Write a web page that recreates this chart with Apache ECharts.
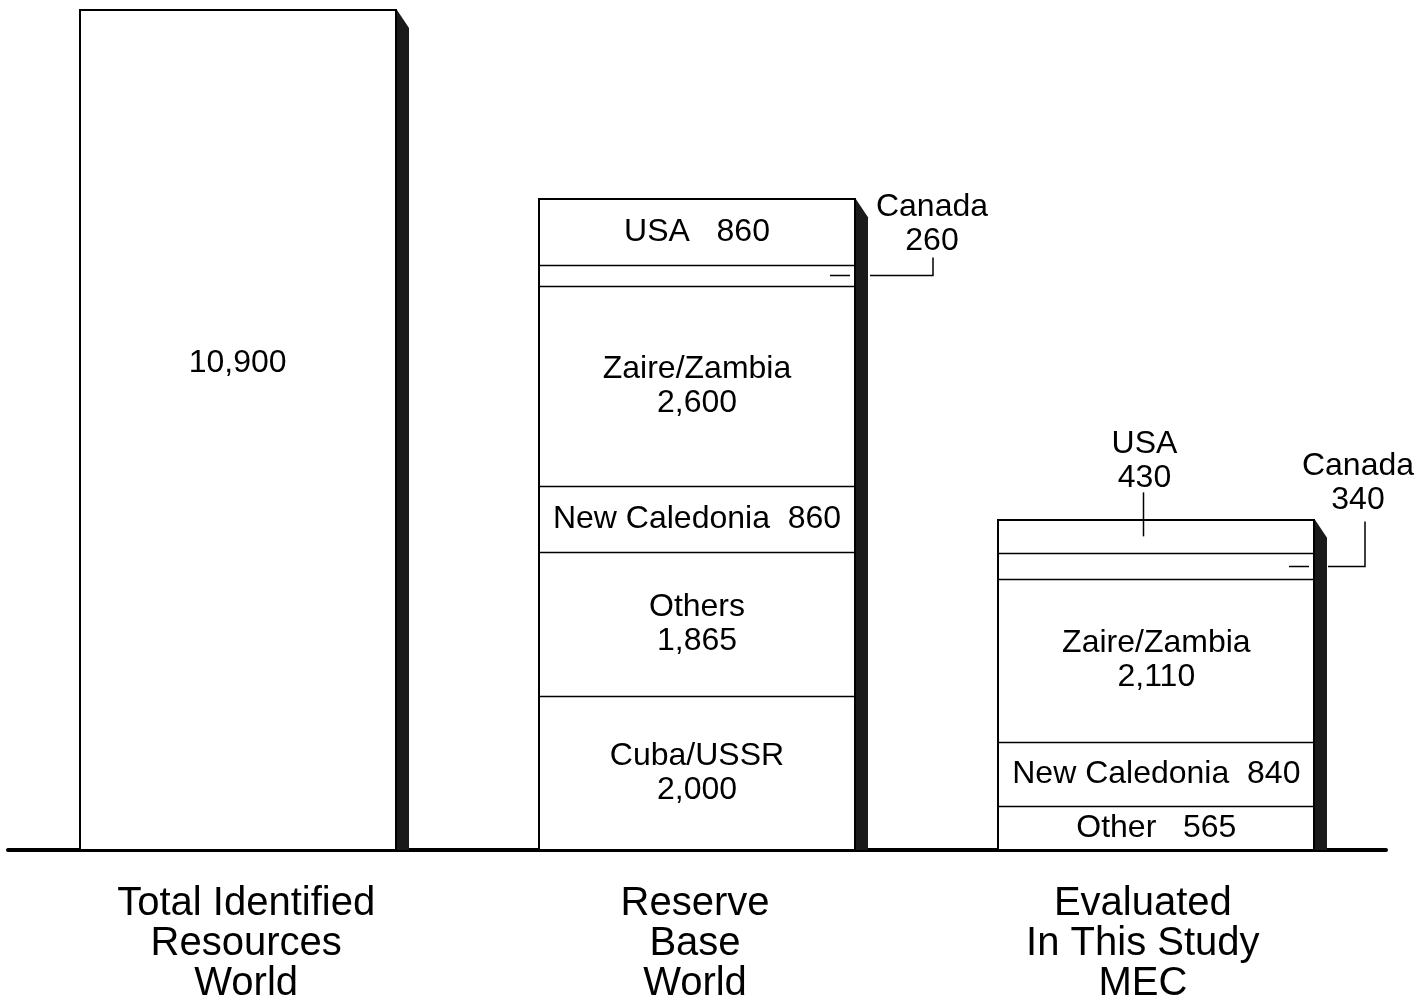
<!DOCTYPE html>
<html>
<head>
<meta charset="utf-8">
<title>Cobalt Resources</title>
<script src="https://cdn.jsdelivr.net/npm/echarts@6/dist/echarts.min.js"></script>
<style>
  html, body { margin: 0; padding: 0; background: #fff; }
  #chart { width: 1422px; height: 1001px; }
</style>
</head>
<body>
<div id="chart"></div>
<script>
// Categories and stacked segment values (one entry per category)
const categories = ['Total Identified\nResources\nWorld', 'Reserve\nBase\nWorld', 'Evaluated\nIn This Study\nMEC'];
const totalWorld   = [10900, null, null];
const cubaUssr     = [null, 2000, null];
const others       = [null, 1865, 565];
const othersNames  = [null, 'Others', 'Other'];
const newCaledonia = [null, 860, 840];
const zaireZambia  = [null, 2600, 2110];
const canada       = [null, 260, 340];
const usa          = [null, 860, 430];

// Drawing settings
const FONT = '"Liberation Sans", Arial, Helvetica, sans-serif';
const BAR_WIDTH = 316;
const SHADOW_W = 12;
const SHADOW_DROP = 18;
const SHADOW_COLOR = '#1a1a1a';
const INSIDE_MIN = 500;      // thinner segments get an outside callout
const TWO_LINE_MIN = 1000;   // taller segments put the value on its own line
const LABEL_SIZE = 32;
const LABEL_LH = 34;
const CAT_SIZE = 40;
const CAT_LH = 40;
// Callout geometry per category (pixels)
const canadaLayout = {
  1: { start: 15, reach: 78, rise: 18, textDx: -1, textDy: -51 },
  2: { start: 14, reach: 51, rise: 45, textDx: -7, textDy: -83 }
};
const usaLayout = { 2: { dx: -13, rise: 44, textDy: -75 } };
// Horizontal nudge of each category caption (left/right padding)
const captionPad = [[0, 0, 0, 17], [0, 4, 0, 0], [0, 27, 0, 0]];

const fmt = v => String(v).replace(/\B(?=(\d{3})+(?!\d))/g, ',');

const stackOrder = [totalWorld, cubaUssr, others, newCaledonia, zaireZambia, canada, usa];
function baseOf(arr, i) {
  let s = 0;
  for (const a of stackOrder) { if (a === arr) break; s += a[i] || 0; }
  return s;
}
const stackTops = categories.map((_, i) => stackOrder.reduce((s, a) => s + (a[i] || 0), 0));
// Cumulative segment boundaries of each stack (inner edges only)
const innerEdges = categories.map((_, i) => {
  const edges = [];
  let s = 0;
  stackOrder.forEach(a => { if (a[i] != null) { s += a[i]; edges.push(s); } });
  edges.pop();
  return edges;
});

function segment(name, values, labelText) {
  return {
    name, type: 'bar', stack: 'resources', barWidth: BAR_WIDTH, silent: true,
    data: values.map(v => ({ value: v, label: { show: v != null && v >= INSIDE_MIN } })),
    itemStyle: { color: '#fff', borderWidth: 0 },
    label: {
      show: true, position: 'inside', color: '#000',
      fontFamily: FONT, fontSize: LABEL_SIZE, lineHeight: LABEL_LH,
      formatter: p => labelText(p.value, p.dataIndex)
    },
    emphasis: { disabled: true },
    z: 3
  };
}
const named = (name, sep) => (v, i) => {
  const n = typeof name === 'function' ? name(i) : name;
  return v >= TWO_LINE_MIN ? n + '\n' + fmt(v) : n + sep + fmt(v);
};

const textStyle = (text, x, y) => ({
  type: 'text', x, y,
  style: {
    text, fill: '#000', font: LABEL_SIZE + 'px ' + FONT,
    fontSize: LABEL_SIZE, fontFamily: FONT, lineHeight: LABEL_LH,
    align: 'center', verticalAlign: 'middle',
    textAlign: 'center', textVerticalAlign: 'middle'
  }
});

function renderShadow(params, api) {
  const i = api.value(0);
  const top = api.coord([i, api.value(1)]);
  const base = api.coord([i, 0]);
  const right = Math.round(top[0] + BAR_WIDTH / 2) + 1;
  return {
    type: 'polygon',
    shape: { points: [[right, top[1]], [right + SHADOW_W, top[1] + SHADOW_DROP], [right + SHADOW_W, base[1]], [right, base[1]]] },
    style: { fill: SHADOW_COLOR }
  };
}

// Bar outline and separators between stacked segments
function renderFrame(params, api) {
  const i = api.value(0);
  const top = api.coord([i, api.value(1)]);
  const base = api.coord([i, 0]);
  const left = Math.round(top[0] - BAR_WIDTH / 2);
  const right = left + BAR_WIDTH;
  const children = [{
    type: 'rect',
    shape: { x: left, y: Math.round(top[1]), width: BAR_WIDTH, height: Math.round(base[1]) - Math.round(top[1]) },
    style: { fill: null, stroke: '#000', lineWidth: 2 }
  }];
  innerEdges[params.dataIndex].forEach(e => {
    const y = Math.round(api.coord([i, e])[1]) + 0.5;
    children.push({ type: 'line', shape: { x1: left, y1: y, x2: right, y2: y }, style: { stroke: '#000', lineWidth: 1.6 } });
  });
  return { type: 'group', children };
}

function renderCanada(params, api) {
  const i = api.value(0), lo = api.value(1), v = api.value(2);
  const mid = api.coord([i, lo + v / 2]);
  const right = Math.round(mid[0] + BAR_WIDTH / 2);
  const y = Math.round(mid[1]) + 0.5;
  const L = canadaLayout[i];
  const line = { stroke: '#000', lineWidth: 1.5, fill: null };
  return {
    type: 'group',
    children: [
      { type: 'line', shape: { x1: right - 25, y1: y, x2: right - 5, y2: y }, style: line },
      { type: 'polyline', shape: { points: [[right + L.start, y], [right + L.reach, y], [right + L.reach, y - L.rise]] }, style: line },
      textStyle('Canada\n' + fmt(v), right + L.reach + L.textDx, y + L.textDy)
    ]
  };
}

function renderUsa(params, api) {
  const i = api.value(0), lo = api.value(1), v = api.value(2);
  const mid = api.coord([i, lo + v / 2]);
  const L = usaLayout[i];
  const x = Math.round(mid[0] + L.dx) + 0.5;
  return {
    type: 'group',
    children: [
      { type: 'line', shape: { x1: x, y1: mid[1], x2: x, y2: mid[1] - L.rise }, style: { stroke: '#000', lineWidth: 1.5 } },
      textStyle('USA\n' + fmt(v), x + 1, mid[1] + L.textDy)
    ]
  };
}

const calloutData = (arr) => arr
  .map((v, i) => (v != null && v < INSIDE_MIN ? [i, baseOf(arr, i), v] : null))
  .filter(Boolean);

const captionRich = {};
captionPad.forEach((pad, i) => {
  captionRich['c' + i] = { fontFamily: FONT, fontSize: CAT_SIZE, lineHeight: CAT_LH, color: '#000', padding: pad };
});

const chart = echarts.init(document.getElementById('chart'), null, { renderer: 'canvas' });
chart.setOption({
  backgroundColor: '#fff',
  animation: false,
  grid: { left: 8, right: 36, top: 10, bottom: 151, containLabel: false, outerBoundsMode: 'none' },
  xAxis: {
    type: 'category', data: categories,
    axisLine: { show: true, lineStyle: { color: '#000', width: 4 } },
    axisTick: { show: false },
    splitLine: { show: false },
    axisLabel: {
      margin: 34, interval: 0, verticalAlign: 'top', hideOverlap: false,
      formatter: (val, idx) => val.split('\n').map(s => '{c' + idx + '|' + s + '}').join('\n'),
      rich: captionRich
    }
  },
  yAxis: { type: 'value', min: 0, max: 10900, show: false, splitLine: { show: false } },
  series: [
    {
      type: 'custom', name: 'shadow', silent: true, z: 2,
      renderItem: renderShadow,
      data: stackTops.map((t, i) => [i, t])
    },
    Object.assign(segment('Total Identified', totalWorld, v => fmt(v)), {
      label: {
        show: true, position: ['50%', '42%'], align: 'center', verticalAlign: 'middle',
        color: '#000', fontFamily: FONT, fontSize: LABEL_SIZE, formatter: p => fmt(p.value)
      }
    }),
    segment('Cuba/USSR', cubaUssr, named('Cuba/USSR', '   ')),
    segment('Others', others, named(i => othersNames[i], '   ')),
    segment('New Caledonia', newCaledonia, named('New Caledonia', '  ')),
    segment('Zaire/Zambia', zaireZambia, named('Zaire/Zambia', '  ')),
    segment('Canada', canada, named('Canada', '  ')),
    segment('USA', usa, named('USA', '   ')),
    {
      type: 'custom', name: 'frame', silent: true, z: 4,
      renderItem: renderFrame,
      data: stackTops.map((t, i) => [i, t])
    },
    {
      type: 'custom', name: 'Canada callout', silent: true, z: 5,
      encode: { x: 0, y: 1 }, renderItem: renderCanada,
      data: calloutData(canada)
    },
    {
      type: 'custom', name: 'USA callout', silent: true, z: 5,
      encode: { x: 0, y: 1 }, renderItem: renderUsa,
      data: calloutData(usa)
    }
  ]
});
</script>
</body>
</html>
